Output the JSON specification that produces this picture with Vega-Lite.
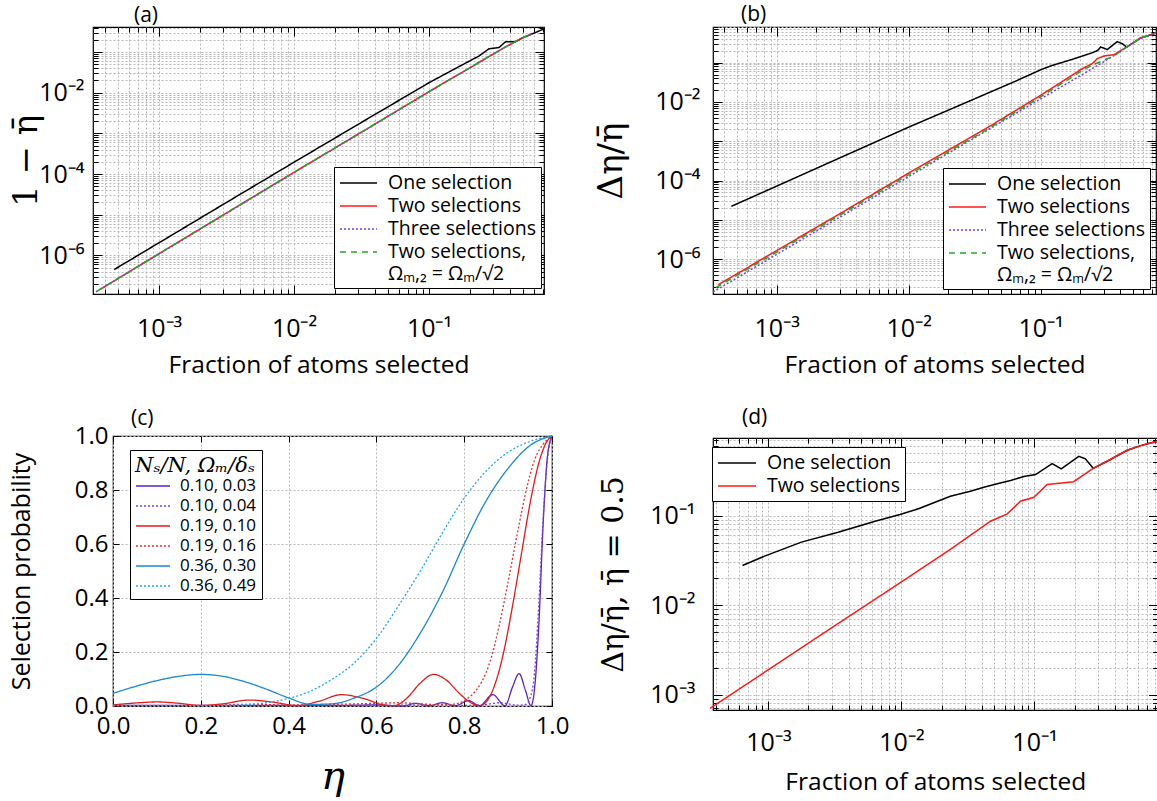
{
  "$schema": "https://vega.github.io/schema/vega-lite/v6.json",
  "background": "white",
  "padding": {"left": 8, "top": 3, "right": 0, "bottom": 0},
  "config": {
    "font": "Open Sans",
    "view": {"stroke": "black", "strokeWidth": 1.2},
    "axis": {"domain": false, "grid": true, "gridColor": "#b8b8b8", "gridDash": [2, 2], "gridWidth": 1, "tickColor": "black", "tickWidth": 1, "labelColor": "black", "labelFont": "Open Sans", "labelFlush": false, "labelOverlap": false, "titleColor": "black", "titleFontWeight": "normal", "titleFont": "Open Sans"},
    "legend": {"strokeColor": "black", "fillColor": "white", "cornerRadius": 0, "symbolStrokeWidth": 1.5, "labelFont": "Open Sans", "labelColor": "black", "labelLimit": 400, "orient": "none", "symbolSize": 400},
    "title": {"font": "Open Sans", "fontSize": 21, "fontWeight": "normal", "anchor": "start", "frame": "group", "color": "black"},
    "line": {"strokeWidth": 1.5, "clip": true}
  },
  "datasets": {
    "a": [
      {"s": "One selection", "x": 0.000465, "y": 4.47e-7},
      {"s": "One selection", "x": 0.001, "y": 2.04e-6},
      {"s": "One selection", "x": 0.00316, "y": 2.0e-5},
      {"s": "One selection", "x": 0.01, "y": 1.95e-4},
      {"s": "One selection", "x": 0.0316, "y": 1.86e-3},
      {"s": "One selection", "x": 0.1, "y": 0.0176},
      {"s": "One selection", "x": 0.158, "y": 0.0398},
      {"s": "One selection", "x": 0.234, "y": 0.0794},
      {"s": "One selection", "x": 0.278, "y": 0.120},
      {"s": "One selection", "x": 0.303, "y": 0.124},
      {"s": "One selection", "x": 0.330, "y": 0.129},
      {"s": "One selection", "x": 0.370, "y": 0.180},
      {"s": "One selection", "x": 0.439, "y": 0.180},
      {"s": "One selection", "x": 0.491, "y": 0.222},
      {"s": "One selection", "x": 0.600, "y": 0.292},
      {"s": "One selection", "x": 0.711, "y": 0.369},
      {"s": "Two selections", "x": 0.000371, "y": 1.5e-7},
      {"s": "Two selections", "x": 0.001, "y": 1.1e-6},
      {"s": "Two selections", "x": 0.00316, "y": 1.1e-5},
      {"s": "Two selections", "x": 0.01, "y": 1.1e-4},
      {"s": "Two selections", "x": 0.0316, "y": 1.07e-3},
      {"s": "Two selections", "x": 0.1, "y": 0.0106},
      {"s": "Two selections", "x": 0.234, "y": 0.0552},
      {"s": "Two selections", "x": 0.370, "y": 0.134},
      {"s": "Two selections", "x": 0.491, "y": 0.222},
      {"s": "Two selections", "x": 0.575, "y": 0.275},
      {"s": "Three selections", "x": 0.000341, "y": 1.26e-7},
      {"s": "Three selections", "x": 0.001, "y": 1.08e-6},
      {"s": "Three selections", "x": 0.00316, "y": 1.08e-5},
      {"s": "Three selections", "x": 0.01, "y": 1.08e-4},
      {"s": "Three selections", "x": 0.0316, "y": 1.06e-3},
      {"s": "Three selections", "x": 0.1, "y": 0.0105},
      {"s": "Three selections", "x": 0.234, "y": 0.0550},
      {"s": "Three selections", "x": 0.370, "y": 0.133},
      {"s": "Three selections", "x": 0.491, "y": 0.222},
      {"s": "Three selections", "x": 0.575, "y": 0.275},
      {"s": "Two selections, Ωm,2 = Ωm/√2", "x": 0.000345, "y": 1.3e-7},
      {"s": "Two selections, Ωm,2 = Ωm/√2", "x": 0.001, "y": 1.1e-6},
      {"s": "Two selections, Ωm,2 = Ωm/√2", "x": 0.00316, "y": 1.1e-5},
      {"s": "Two selections, Ωm,2 = Ωm/√2", "x": 0.01, "y": 1.1e-4},
      {"s": "Two selections, Ωm,2 = Ωm/√2", "x": 0.0316, "y": 1.07e-3},
      {"s": "Two selections, Ωm,2 = Ωm/√2", "x": 0.1, "y": 0.0106},
      {"s": "Two selections, Ωm,2 = Ωm/√2", "x": 0.234, "y": 0.0552},
      {"s": "Two selections, Ωm,2 = Ωm/√2", "x": 0.370, "y": 0.134},
      {"s": "Two selections, Ωm,2 = Ωm/√2", "x": 0.491, "y": 0.222},
      {"s": "Two selections, Ωm,2 = Ωm/√2", "x": 0.575, "y": 0.275}
    ],
    "b": [
      {"s": "One selection", "x": 0.000453, "y": 2.21e-5},
      {"s": "One selection", "x": 0.001, "y": 7.24e-5},
      {"s": "One selection", "x": 0.00316, "y": 4.07e-4},
      {"s": "One selection", "x": 0.01, "y": 2.29e-3},
      {"s": "One selection", "x": 0.0202, "y": 6.3e-3},
      {"s": "One selection", "x": 0.0361, "y": 0.0146},
      {"s": "One selection", "x": 0.0647, "y": 0.034},
      {"s": "One selection", "x": 0.1, "y": 0.066},
      {"s": "One selection", "x": 0.1225, "y": 0.0853},
      {"s": "One selection", "x": 0.173, "y": 0.121},
      {"s": "One selection", "x": 0.246, "y": 0.179},
      {"s": "One selection", "x": 0.27, "y": 0.205},
      {"s": "One selection", "x": 0.285, "y": 0.251},
      {"s": "One selection", "x": 0.320, "y": 0.216},
      {"s": "One selection", "x": 0.380, "y": 0.343},
      {"s": "One selection", "x": 0.415, "y": 0.304},
      {"s": "One selection", "x": 0.449, "y": 0.25},
      {"s": "One selection", "x": 0.573, "y": 0.426},
      {"s": "One selection", "x": 0.661, "y": 0.495},
      {"s": "One selection", "x": 0.748, "y": 0.57},
      {"s": "Two selections", "x": 0.000361, "y": 2.24e-7},
      {"s": "Two selections", "x": 0.001, "y": 1.66e-6},
      {"s": "Two selections", "x": 0.00316, "y": 1.58e-5},
      {"s": "Two selections", "x": 0.01, "y": 1.55e-4},
      {"s": "Two selections", "x": 0.0383, "y": 2.09e-3},
      {"s": "Two selections", "x": 0.1, "y": 0.0148},
      {"s": "Two selections", "x": 0.2065, "y": 0.0703},
      {"s": "Two selections", "x": 0.246, "y": 0.0944},
      {"s": "Two selections", "x": 0.2685, "y": 0.1265},
      {"s": "Two selections", "x": 0.302, "y": 0.148},
      {"s": "Two selections", "x": 0.359, "y": 0.160},
      {"s": "Two selections", "x": 0.449, "y": 0.25},
      {"s": "Two selections", "x": 0.573, "y": 0.426},
      {"s": "Two selections", "x": 0.661, "y": 0.495},
      {"s": "Two selections", "x": 0.748, "y": 0.57},
      {"s": "Three selections", "x": 0.000329, "y": 1.46e-7},
      {"s": "Three selections", "x": 0.001, "y": 1.32e-6},
      {"s": "Three selections", "x": 0.00316, "y": 1.29e-5},
      {"s": "Three selections", "x": 0.01, "y": 1.26e-4},
      {"s": "Three selections", "x": 0.0316, "y": 1.23e-3},
      {"s": "Three selections", "x": 0.1, "y": 0.0120},
      {"s": "Three selections", "x": 0.2, "y": 0.0468},
      {"s": "Three selections", "x": 0.370, "y": 0.160},
      {"s": "Three selections", "x": 0.449, "y": 0.25},
      {"s": "Three selections", "x": 0.573, "y": 0.426},
      {"s": "Three selections", "x": 0.661, "y": 0.495},
      {"s": "Three selections", "x": 0.748, "y": 0.57},
      {"s": "Two selections, Ωm,2 = Ωm/√2", "x": 0.000347, "y": 1.9e-7},
      {"s": "Two selections, Ωm,2 = Ωm/√2", "x": 0.001, "y": 1.51e-6},
      {"s": "Two selections, Ωm,2 = Ωm/√2", "x": 0.00316, "y": 1.45e-5},
      {"s": "Two selections, Ωm,2 = Ωm/√2", "x": 0.01, "y": 1.41e-4},
      {"s": "Two selections, Ωm,2 = Ωm/√2", "x": 0.0383, "y": 1.9e-3},
      {"s": "Two selections, Ωm,2 = Ωm/√2", "x": 0.1, "y": 0.0135},
      {"s": "Two selections, Ωm,2 = Ωm/√2", "x": 0.2065, "y": 0.063},
      {"s": "Two selections, Ωm,2 = Ωm/√2", "x": 0.246, "y": 0.087},
      {"s": "Two selections, Ωm,2 = Ωm/√2", "x": 0.302, "y": 0.115},
      {"s": "Two selections, Ωm,2 = Ωm/√2", "x": 0.33, "y": 0.132},
      {"s": "Two selections, Ωm,2 = Ωm/√2", "x": 0.37, "y": 0.16},
      {"s": "Two selections, Ωm,2 = Ωm/√2", "x": 0.449, "y": 0.25},
      {"s": "Two selections, Ωm,2 = Ωm/√2", "x": 0.573, "y": 0.426},
      {"s": "Two selections, Ωm,2 = Ωm/√2", "x": 0.661, "y": 0.495},
      {"s": "Two selections, Ωm,2 = Ωm/√2", "x": 0.748, "y": 0.57}
    ],
    "c": [
      {"s": "0.10, 0.03", "x": 0.0, "y": 0.002},
      {"s": "0.10, 0.03", "x": 0.3, "y": 0.002},
      {"s": "0.10, 0.03", "x": 0.5, "y": 0.002},
      {"s": "0.10, 0.03", "x": 0.6, "y": 0.004},
      {"s": "0.10, 0.03", "x": 0.66, "y": 0.0},
      {"s": "0.10, 0.03", "x": 0.69, "y": 0.01},
      {"s": "0.10, 0.03", "x": 0.72, "y": 0.001},
      {"s": "0.10, 0.03", "x": 0.75, "y": 0.012},
      {"s": "0.10, 0.03", "x": 0.78, "y": 0.001},
      {"s": "0.10, 0.03", "x": 0.81, "y": 0.02},
      {"s": "0.10, 0.03", "x": 0.835, "y": 0.001},
      {"s": "0.10, 0.03", "x": 0.865, "y": 0.042},
      {"s": "0.10, 0.03", "x": 0.893, "y": 0.001},
      {"s": "0.10, 0.03", "x": 0.91, "y": 0.07},
      {"s": "0.10, 0.03", "x": 0.925, "y": 0.12},
      {"s": "0.10, 0.03", "x": 0.94, "y": 0.055},
      {"s": "0.10, 0.03", "x": 0.952, "y": 0.001},
      {"s": "0.10, 0.03", "x": 0.96, "y": 0.06},
      {"s": "0.10, 0.03", "x": 0.97, "y": 0.3},
      {"s": "0.10, 0.03", "x": 0.98, "y": 0.68},
      {"s": "0.10, 0.03", "x": 0.99, "y": 0.93},
      {"s": "0.10, 0.03", "x": 1.0, "y": 1.0},
      {"s": "0.10, 0.04", "x": 0.0, "y": 0.001},
      {"s": "0.10, 0.04", "x": 0.6, "y": 0.002},
      {"s": "0.10, 0.04", "x": 0.75, "y": 0.004},
      {"s": "0.10, 0.04", "x": 0.8, "y": 0.002},
      {"s": "0.10, 0.04", "x": 0.85, "y": 0.006},
      {"s": "0.10, 0.04", "x": 0.88, "y": 0.012},
      {"s": "0.10, 0.04", "x": 0.9, "y": 0.008},
      {"s": "0.10, 0.04", "x": 0.92, "y": 0.003},
      {"s": "0.10, 0.04", "x": 0.94, "y": 0.006},
      {"s": "0.10, 0.04", "x": 0.95, "y": 0.03},
      {"s": "0.10, 0.04", "x": 0.96, "y": 0.12},
      {"s": "0.10, 0.04", "x": 0.97, "y": 0.38},
      {"s": "0.10, 0.04", "x": 0.98, "y": 0.7},
      {"s": "0.10, 0.04", "x": 0.99, "y": 0.92},
      {"s": "0.10, 0.04", "x": 1.0, "y": 1.0},
      {"s": "0.19, 0.10", "x": 0.0, "y": 0.004},
      {"s": "0.19, 0.10", "x": 0.05, "y": 0.011},
      {"s": "0.19, 0.10", "x": 0.1, "y": 0.015},
      {"s": "0.19, 0.10", "x": 0.15, "y": 0.010},
      {"s": "0.19, 0.10", "x": 0.2, "y": 0.002},
      {"s": "0.19, 0.10", "x": 0.25, "y": 0.008},
      {"s": "0.19, 0.10", "x": 0.31, "y": 0.022},
      {"s": "0.19, 0.10", "x": 0.37, "y": 0.013},
      {"s": "0.19, 0.10", "x": 0.42, "y": 0.001},
      {"s": "0.19, 0.10", "x": 0.47, "y": 0.018},
      {"s": "0.19, 0.10", "x": 0.52, "y": 0.042},
      {"s": "0.19, 0.10", "x": 0.57, "y": 0.028},
      {"s": "0.19, 0.10", "x": 0.62, "y": 0.003},
      {"s": "0.19, 0.10", "x": 0.64, "y": 0.001},
      {"s": "0.19, 0.10", "x": 0.67, "y": 0.03},
      {"s": "0.19, 0.10", "x": 0.70, "y": 0.085},
      {"s": "0.19, 0.10", "x": 0.73, "y": 0.117},
      {"s": "0.19, 0.10", "x": 0.76, "y": 0.095},
      {"s": "0.19, 0.10", "x": 0.79, "y": 0.045},
      {"s": "0.19, 0.10", "x": 0.82, "y": 0.008},
      {"s": "0.19, 0.10", "x": 0.835, "y": 0.001},
      {"s": "0.19, 0.10", "x": 0.85, "y": 0.015},
      {"s": "0.19, 0.10", "x": 0.87, "y": 0.08},
      {"s": "0.19, 0.10", "x": 0.89, "y": 0.2},
      {"s": "0.19, 0.10", "x": 0.91, "y": 0.37},
      {"s": "0.19, 0.10", "x": 0.93, "y": 0.56},
      {"s": "0.19, 0.10", "x": 0.95, "y": 0.75},
      {"s": "0.19, 0.10", "x": 0.97, "y": 0.90},
      {"s": "0.19, 0.10", "x": 0.985, "y": 0.97},
      {"s": "0.19, 0.10", "x": 1.0, "y": 1.0},
      {"s": "0.19, 0.16", "x": 0.0, "y": 0.001},
      {"s": "0.19, 0.16", "x": 0.2, "y": 0.002},
      {"s": "0.19, 0.16", "x": 0.3, "y": 0.006},
      {"s": "0.19, 0.16", "x": 0.4, "y": 0.004},
      {"s": "0.19, 0.16", "x": 0.5, "y": 0.006},
      {"s": "0.19, 0.16", "x": 0.6, "y": 0.01},
      {"s": "0.19, 0.16", "x": 0.65, "y": 0.012},
      {"s": "0.19, 0.16", "x": 0.7, "y": 0.008},
      {"s": "0.19, 0.16", "x": 0.75, "y": 0.004},
      {"s": "0.19, 0.16", "x": 0.78, "y": 0.008},
      {"s": "0.19, 0.16", "x": 0.8, "y": 0.02},
      {"s": "0.19, 0.16", "x": 0.82, "y": 0.045},
      {"s": "0.19, 0.16", "x": 0.84, "y": 0.09},
      {"s": "0.19, 0.16", "x": 0.86, "y": 0.17},
      {"s": "0.19, 0.16", "x": 0.88, "y": 0.3},
      {"s": "0.19, 0.16", "x": 0.9, "y": 0.46},
      {"s": "0.19, 0.16", "x": 0.92, "y": 0.63},
      {"s": "0.19, 0.16", "x": 0.94, "y": 0.79},
      {"s": "0.19, 0.16", "x": 0.96, "y": 0.91},
      {"s": "0.19, 0.16", "x": 0.98, "y": 0.97},
      {"s": "0.19, 0.16", "x": 1.0, "y": 1.0},
      {"s": "0.36, 0.30", "x": 0.0, "y": 0.047},
      {"s": "0.36, 0.30", "x": 0.05, "y": 0.072},
      {"s": "0.36, 0.30", "x": 0.1, "y": 0.094},
      {"s": "0.36, 0.30", "x": 0.15, "y": 0.110},
      {"s": "0.36, 0.30", "x": 0.2, "y": 0.117},
      {"s": "0.36, 0.30", "x": 0.25, "y": 0.110},
      {"s": "0.36, 0.30", "x": 0.3, "y": 0.090},
      {"s": "0.36, 0.30", "x": 0.35, "y": 0.062},
      {"s": "0.36, 0.30", "x": 0.4, "y": 0.030},
      {"s": "0.36, 0.30", "x": 0.45, "y": 0.006},
      {"s": "0.36, 0.30", "x": 0.5, "y": 0.008},
      {"s": "0.36, 0.30", "x": 0.55, "y": 0.030},
      {"s": "0.36, 0.30", "x": 0.6, "y": 0.07},
      {"s": "0.36, 0.30", "x": 0.65, "y": 0.15},
      {"s": "0.36, 0.30", "x": 0.7, "y": 0.27},
      {"s": "0.36, 0.30", "x": 0.75, "y": 0.42},
      {"s": "0.36, 0.30", "x": 0.8, "y": 0.6},
      {"s": "0.36, 0.30", "x": 0.85, "y": 0.76},
      {"s": "0.36, 0.30", "x": 0.9, "y": 0.88},
      {"s": "0.36, 0.30", "x": 0.95, "y": 0.965},
      {"s": "0.36, 0.30", "x": 1.0, "y": 1.0},
      {"s": "0.36, 0.49", "x": 0.0, "y": 0.002},
      {"s": "0.36, 0.49", "x": 0.1, "y": 0.002},
      {"s": "0.36, 0.49", "x": 0.2, "y": 0.001},
      {"s": "0.36, 0.49", "x": 0.25, "y": 0.002},
      {"s": "0.36, 0.49", "x": 0.3, "y": 0.005},
      {"s": "0.36, 0.49", "x": 0.35, "y": 0.012},
      {"s": "0.36, 0.49", "x": 0.4, "y": 0.028},
      {"s": "0.36, 0.49", "x": 0.45, "y": 0.055},
      {"s": "0.36, 0.49", "x": 0.5, "y": 0.1},
      {"s": "0.36, 0.49", "x": 0.55, "y": 0.16},
      {"s": "0.36, 0.49", "x": 0.6, "y": 0.25},
      {"s": "0.36, 0.49", "x": 0.65, "y": 0.37},
      {"s": "0.36, 0.49", "x": 0.7, "y": 0.5},
      {"s": "0.36, 0.49", "x": 0.75, "y": 0.64},
      {"s": "0.36, 0.49", "x": 0.8, "y": 0.77},
      {"s": "0.36, 0.49", "x": 0.85, "y": 0.87},
      {"s": "0.36, 0.49", "x": 0.9, "y": 0.94},
      {"s": "0.36, 0.49", "x": 0.95, "y": 0.98},
      {"s": "0.36, 0.49", "x": 1.0, "y": 1.0}
    ],
    "d": [
      {"s": "One selection", "x": 0.000638, "y": 0.0277},
      {"s": "One selection", "x": 0.000935, "y": 0.0352},
      {"s": "One selection", "x": 0.00177, "y": 0.0505},
      {"s": "One selection", "x": 0.00334, "y": 0.0652},
      {"s": "One selection", "x": 0.00634, "y": 0.0865},
      {"s": "One selection", "x": 0.00975, "y": 0.1026},
      {"s": "One selection", "x": 0.01358, "y": 0.1197},
      {"s": "One selection", "x": 0.0233, "y": 0.1644},
      {"s": "One selection", "x": 0.0330, "y": 0.187},
      {"s": "One selection", "x": 0.0416, "y": 0.2075},
      {"s": "One selection", "x": 0.0525, "y": 0.226},
      {"s": "One selection", "x": 0.0661, "y": 0.246},
      {"s": "One selection", "x": 0.0832, "y": 0.273},
      {"s": "One selection", "x": 0.1019, "y": 0.287},
      {"s": "One selection", "x": 0.1358, "y": 0.381},
      {"s": "One selection", "x": 0.1589, "y": 0.332},
      {"s": "One selection", "x": 0.2153, "y": 0.459},
      {"s": "One selection", "x": 0.2415, "y": 0.430},
      {"s": "One selection", "x": 0.276, "y": 0.337},
      {"s": "One selection", "x": 0.352, "y": 0.404},
      {"s": "One selection", "x": 0.498, "y": 0.536},
      {"s": "One selection", "x": 0.627, "y": 0.604},
      {"s": "One selection", "x": 0.745, "y": 0.647},
      {"s": "One selection", "x": 0.838, "y": 0.675},
      {"s": "Two selections", "x": 0.000364, "y": 0.00070},
      {"s": "Two selections", "x": 0.001, "y": 0.0019},
      {"s": "Two selections", "x": 0.00316, "y": 0.0059},
      {"s": "Two selections", "x": 0.01, "y": 0.0182},
      {"s": "Two selections", "x": 0.0233, "y": 0.0418},
      {"s": "Two selections", "x": 0.0467, "y": 0.0865},
      {"s": "Two selections", "x": 0.0624, "y": 0.1045},
      {"s": "Two selections", "x": 0.0785, "y": 0.1445},
      {"s": "Two selections", "x": 0.0989, "y": 0.160},
      {"s": "Two selections", "x": 0.1245, "y": 0.222},
      {"s": "Two selections", "x": 0.197, "y": 0.239},
      {"s": "Two selections", "x": 0.276, "y": 0.337},
      {"s": "Two selections", "x": 0.352, "y": 0.404},
      {"s": "Two selections", "x": 0.498, "y": 0.536},
      {"s": "Two selections", "x": 0.627, "y": 0.604},
      {"s": "Two selections", "x": 0.745, "y": 0.647},
      {"s": "Two selections", "x": 0.838, "y": 0.675}
    ]
  },
  "spacing": 24,
  "resolve": {"scale": {"color": "independent", "strokeDash": "independent"}, "legend": {"color": "independent", "strokeDash": "independent"}},
  "hconcat": [
    {
      "columns": 1,
      "spacing": 29,
      "resolve": {"scale": {"color": "independent", "strokeDash": "independent"}, "legend": {"color": "independent", "strokeDash": "independent"}},
      "concat": [
        {
          "width": 451, "height": 267,
          "title": {"text": "(a)", "dx": 41, "offset": -10},
          "data": {"name": "a"},
          "layer": [
            {
              "mark": {"type": "line"},
              "encoding": {
                "x": {"field": "x", "type": "quantitative", "scale": {"type": "log", "domain": [0.000324, 0.711], "nice": false},
                  "axis": {"title": "Fraction of atoms selected", "titleFontSize": 24.5, "titlePadding": 8,
                    "values": [0.0004,0.0005,0.0006,0.0007,0.0008,0.0009,0.001,0.002,0.003,0.004,0.005,0.006,0.007,0.008,0.009,0.01,0.02,0.03,0.04,0.05,0.06,0.07,0.08,0.09,0.1,0.2,0.3,0.4,0.5,0.6,0.7],
                    "labelExpr": "datum.value == 0.001 ? '10⁻³' : datum.value == 0.01 ? '10⁻²' : datum.value == 0.1 ? '10⁻¹' : ''",
                    "labelFontSize": 25, "labelPadding": 31,
                    "tickSize": {"condition": {"test": "abs(log(datum.value)/LN10 - round(log(datum.value)/LN10)) < 0.001", "value": -9}, "value": -5}}},
                "y": {"field": "y", "type": "quantitative", "scale": {"type": "log", "domain": [1.12e-7, 0.412], "nice": false},
                  "axis": {"title": "1 − η̄", "titleFont": "DejaVu Serif", "titleFontSize": 34, "titlePadding": -5,
                    "values": [2e-7,3e-7,4e-7,5e-7,6e-7,7e-7,8e-7,9e-7,1e-6,2e-6,3e-6,4e-6,5e-6,6e-6,7e-6,8e-6,9e-6,1e-5,2e-5,3e-5,4e-5,5e-5,6e-5,7e-5,8e-5,9e-5,1e-4,2e-4,3e-4,4e-4,5e-4,6e-4,7e-4,8e-4,9e-4,0.001,0.002,0.003,0.004,0.005,0.006,0.007,0.008,0.009,0.01,0.02,0.03,0.04,0.05,0.06,0.07,0.08,0.09,0.1,0.2,0.3,0.4],
                    "labelExpr": "datum.value == 0.01 ? '10⁻²' : datum.value == 0.0001 ? '10⁻⁴' : datum.value == 0.000001 ? '10⁻⁶' : ''",
                    "labelFontSize": 25, "labelPadding": 18,
                    "tickSize": {"condition": {"test": "abs(log(datum.value)/LN10 - round(log(datum.value)/LN10)) < 0.001", "value": -9}, "value": -5}}},
                "color": {"field": "s", "type": "nominal",
                  "scale": {"domain": ["One selection", "Two selections", "Three selections", "Two selections, Ωm,2 = Ωm/√2"], "range": ["#000000", "#ff1a1a", "#7b3fe0", "#22a822"]},
                  "legend": {"legendX": 241, "legendY": 140, "title": null, "symbolType": "M-1,0H2.7", "labelFontSize": 19.5, "padding": 5, "rowPadding": 2, "labelOffset": 27,
                    "labelExpr": "indexof(datum.label, 'Ω') > 0 ? ['Two selections,', 'Ωₘ,₂ = Ωₘ/√2'] : datum.label"}},
                "strokeDash": {"field": "s", "type": "nominal",
                  "scale": {"domain": ["One selection", "Two selections", "Three selections", "Two selections, Ωm,2 = Ωm/√2"], "range": [[1, 0], [1, 0], [2, 2], [6, 5]]},
                  "legend": {"legendX": 241, "legendY": 140, "title": null, "symbolType": "M-1,0H2.7", "labelFontSize": 19.5, "padding": 5, "rowPadding": 2, "labelOffset": 27,
                    "labelExpr": "indexof(datum.label, 'Ω') > 0 ? ['Two selections,', 'Ωₘ,₂ = Ωₘ/√2'] : datum.label"}}
              }
            },
            {
              "mark": {"type": "line", "strokeOpacity": 0},
              "encoding": {
                "x": {"field": "x", "type": "quantitative", "scale": {"type": "log", "domain": [0.000324, 0.711], "nice": false},
                  "axis": {"orient": "top", "labels": false, "grid": false, "title": null,
                    "values": [0.0004,0.0005,0.0006,0.0007,0.0008,0.0009,0.001,0.002,0.003,0.004,0.005,0.006,0.007,0.008,0.009,0.01,0.02,0.03,0.04,0.05,0.06,0.07,0.08,0.09,0.1,0.2,0.3,0.4,0.5,0.6,0.7],
                    "tickSize": {"condition": {"test": "abs(log(datum.value)/LN10 - round(log(datum.value)/LN10)) < 0.001", "value": -9}, "value": -5}}},
                "y": {"field": "y", "type": "quantitative", "scale": {"type": "log", "domain": [1.12e-7, 0.412], "nice": false},
                  "axis": {"orient": "right", "labels": false, "grid": false, "title": null,
                    "values": [2e-7,3e-7,4e-7,5e-7,6e-7,7e-7,8e-7,9e-7,1e-6,2e-6,3e-6,4e-6,5e-6,6e-6,7e-6,8e-6,9e-6,1e-5,2e-5,3e-5,4e-5,5e-5,6e-5,7e-5,8e-5,9e-5,1e-4,2e-4,3e-4,4e-4,5e-4,6e-4,7e-4,8e-4,9e-4,0.001,0.002,0.003,0.004,0.005,0.006,0.007,0.008,0.009,0.01,0.02,0.03,0.04,0.05,0.06,0.07,0.08,0.09,0.1,0.2,0.3,0.4],
                    "tickSize": {"condition": {"test": "abs(log(datum.value)/LN10 - round(log(datum.value)/LN10)) < 0.001", "value": -9}, "value": -5}}},
                "detail": {"field": "s"}
              }
            }
          ],
          "resolve": {"axis": {"x": "independent", "y": "independent"}}
        },
        {
          "bounds": "flush",
          "spacing": 0,
          "resolve": {"scale": {"color": "independent", "strokeDash": "independent"}, "legend": {"color": "independent", "strokeDash": "independent"}},
          "hconcat": [
            {"width": 20, "height": 270, "view": {"stroke": null}, "data": {"values": []}, "mark": "point", "encoding": {}},
            {
              "width": 439, "height": 270,
              "title": {"text": "(c)", "dx": 18, "offset": -5},
              "data": {"name": "c"},
              "layer": [
                {
                  "mark": {"type": "line", "interpolate": "monotone", "strokeWidth": 1.3},
                  "encoding": {
                    "x": {"field": "x", "type": "quantitative", "scale": {"domain": [0, 1], "nice": false},
                      "axis": {"title": "η", "titleFont": "DejaVu Serif", "titleFontStyle": "italic", "titleFontSize": 40, "titlePadding": 18,
                        "values": [0, 0.2, 0.4, 0.6, 0.8, 1.0], "format": ".1f", "labelFontSize": 24, "labelPadding": 14, "tickSize": -6}},
                    "y": {"field": "y", "type": "quantitative", "scale": {"domain": [0, 1], "nice": false},
                      "axis": {"title": "Selection probability", "titleFontSize": 25, "titlePadding": 40,
                        "values": [0, 0.2, 0.4, 0.6, 0.8, 1.0], "format": ".1f", "labelFontSize": 24, "labelPadding": 11, "tickSize": -6}},
                    "color": {"field": "s", "type": "nominal",
                      "scale": {"domain": ["0.10, 0.03", "0.10, 0.04", "0.19, 0.10", "0.19, 0.16", "0.36, 0.30", "0.36, 0.49"], "range": ["#5a22c0", "#7a3fd8", "#e01b1b", "#e83030", "#1b88d0", "#27a4e6"]},
                      "legend": {"legendX": 17, "legendY": 14, "title": "Nₛ/N, Ωₘ/δₛ", "titleFont": "DejaVu Serif", "titleFontStyle": "italic", "titleFontSize": 21, "titleFontWeight": "normal", "titleColor": "black", "titlePadding": -1,
                        "symbolType": "M-1,0H2.4", "labelFontSize": 17, "padding": 5, "rowPadding": 1, "labelOffset": 23}},
                    "strokeDash": {"field": "s", "type": "nominal",
                      "scale": {"domain": ["0.10, 0.03", "0.10, 0.04", "0.19, 0.10", "0.19, 0.16", "0.36, 0.30", "0.36, 0.49"], "range": [[1, 0], [2, 2], [1, 0], [2, 2], [1, 0], [2, 2]]},
                      "legend": {"legendX": 17, "legendY": 14, "title": "Nₛ/N, Ωₘ/δₛ", "titleFont": "DejaVu Serif", "titleFontStyle": "italic", "titleFontSize": 21, "titleFontWeight": "normal", "titleColor": "black", "titlePadding": -1,
                        "symbolType": "M-1,0H2.4", "labelFontSize": 17, "padding": 5, "rowPadding": 1, "labelOffset": 23}}
                  }
                },
                {
                  "mark": {"type": "line", "strokeOpacity": 0},
                  "encoding": {
                    "x": {"field": "x", "type": "quantitative", "scale": {"domain": [0, 1], "nice": false},
                      "axis": {"orient": "top", "labels": false, "grid": false, "title": null, "values": [0, 0.2, 0.4, 0.6, 0.8, 1.0], "tickSize": -6}},
                    "y": {"field": "y", "type": "quantitative", "scale": {"domain": [0, 1], "nice": false},
                      "axis": {"orient": "right", "labels": false, "grid": false, "title": null, "values": [0, 0.2, 0.4, 0.6, 0.8, 1.0], "tickSize": -6}},
                    "detail": {"field": "s"}
                  }
                }
              ],
              "resolve": {"axis": {"x": "independent", "y": "independent"}}
            }
          ]
        }
      ]
    },
    {
      "columns": 1,
      "spacing": 28,
      "resolve": {"scale": {"color": "independent", "strokeDash": "independent"}, "legend": {"color": "independent", "strokeDash": "independent"}},
      "concat": [
        {
          "width": 443, "height": 267,
          "title": {"text": "(b)", "dx": 28, "offset": -10},
          "data": {"name": "b"},
          "layer": [
            {
              "mark": {"type": "line"},
              "encoding": {
                "x": {"field": "x", "type": "quantitative", "scale": {"type": "log", "domain": [0.000329, 0.748], "nice": false},
                  "axis": {"title": "Fraction of atoms selected", "titleFontSize": 24.5, "titlePadding": 8,
                    "values": [0.0004,0.0005,0.0006,0.0007,0.0008,0.0009,0.001,0.002,0.003,0.004,0.005,0.006,0.007,0.008,0.009,0.01,0.02,0.03,0.04,0.05,0.06,0.07,0.08,0.09,0.1,0.2,0.3,0.4,0.5,0.6,0.7],
                    "labelExpr": "datum.value == 0.001 ? '10⁻³' : datum.value == 0.01 ? '10⁻²' : datum.value == 0.1 ? '10⁻¹' : ''",
                    "labelFontSize": 25, "labelPadding": 31,
                    "tickSize": {"condition": {"test": "abs(log(datum.value)/LN10 - round(log(datum.value)/LN10)) < 0.001", "value": -9}, "value": -5}}},
                "y": {"field": "y", "type": "quantitative", "scale": {"type": "log", "domain": [1.3e-7, 0.809], "nice": false},
                  "axis": {"title": "Δη/η̄", "titleFont": "DejaVu Serif", "titleFontSize": 34, "titlePadding": 26,
                    "values": [2e-7,3e-7,4e-7,5e-7,6e-7,7e-7,8e-7,9e-7,1e-6,2e-6,3e-6,4e-6,5e-6,6e-6,7e-6,8e-6,9e-6,1e-5,2e-5,3e-5,4e-5,5e-5,6e-5,7e-5,8e-5,9e-5,1e-4,2e-4,3e-4,4e-4,5e-4,6e-4,7e-4,8e-4,9e-4,0.001,0.002,0.003,0.004,0.005,0.006,0.007,0.008,0.009,0.01,0.02,0.03,0.04,0.05,0.06,0.07,0.08,0.09,0.1,0.2,0.3,0.4,0.5,0.6,0.7,0.8],
                    "labelExpr": "datum.value == 0.01 ? '10⁻²' : datum.value == 0.0001 ? '10⁻⁴' : datum.value == 0.000001 ? '10⁻⁶' : ''",
                    "labelFontSize": 25, "labelPadding": 22,
                    "tickSize": {"condition": {"test": "abs(log(datum.value)/LN10 - round(log(datum.value)/LN10)) < 0.001", "value": -9}, "value": -5}}},
                "color": {"field": "s", "type": "nominal",
                  "scale": {"domain": ["One selection", "Two selections", "Three selections", "Two selections, Ωm,2 = Ωm/√2"], "range": ["#000000", "#ff1a1a", "#7b3fe0", "#22a822"]},
                  "legend": {"legendX": 230, "legendY": 141, "title": null, "symbolType": "M-1,0H2.7", "labelFontSize": 19.5, "padding": 5, "rowPadding": 2, "labelOffset": 27,
                    "labelExpr": "indexof(datum.label, 'Ω') > 0 ? ['Two selections,', 'Ωₘ,₂ = Ωₘ/√2'] : datum.label"}},
                "strokeDash": {"field": "s", "type": "nominal",
                  "scale": {"domain": ["One selection", "Two selections", "Three selections", "Two selections, Ωm,2 = Ωm/√2"], "range": [[1, 0], [1, 0], [2, 2], [6, 5]]},
                  "legend": {"legendX": 230, "legendY": 141, "title": null, "symbolType": "M-1,0H2.7", "labelFontSize": 19.5, "padding": 5, "rowPadding": 2, "labelOffset": 27,
                    "labelExpr": "indexof(datum.label, 'Ω') > 0 ? ['Two selections,', 'Ωₘ,₂ = Ωₘ/√2'] : datum.label"}}
              }
            },
            {
              "mark": {"type": "line", "strokeOpacity": 0},
              "encoding": {
                "x": {"field": "x", "type": "quantitative", "scale": {"type": "log", "domain": [0.000329, 0.748], "nice": false},
                  "axis": {"orient": "top", "labels": false, "grid": false, "title": null,
                    "values": [0.0004,0.0005,0.0006,0.0007,0.0008,0.0009,0.001,0.002,0.003,0.004,0.005,0.006,0.007,0.008,0.009,0.01,0.02,0.03,0.04,0.05,0.06,0.07,0.08,0.09,0.1,0.2,0.3,0.4,0.5,0.6,0.7],
                    "tickSize": {"condition": {"test": "abs(log(datum.value)/LN10 - round(log(datum.value)/LN10)) < 0.001", "value": -9}, "value": -5}}},
                "y": {"field": "y", "type": "quantitative", "scale": {"type": "log", "domain": [1.3e-7, 0.809], "nice": false},
                  "axis": {"orient": "right", "labels": false, "grid": false, "title": null,
                    "values": [2e-7,3e-7,4e-7,5e-7,6e-7,7e-7,8e-7,9e-7,1e-6,2e-6,3e-6,4e-6,5e-6,6e-6,7e-6,8e-6,9e-6,1e-5,2e-5,3e-5,4e-5,5e-5,6e-5,7e-5,8e-5,9e-5,1e-4,2e-4,3e-4,4e-4,5e-4,6e-4,7e-4,8e-4,9e-4,0.001,0.002,0.003,0.004,0.005,0.006,0.007,0.008,0.009,0.01,0.02,0.03,0.04,0.05,0.06,0.07,0.08,0.09,0.1,0.2,0.3,0.4,0.5,0.6,0.7,0.8],
                    "tickSize": {"condition": {"test": "abs(log(datum.value)/LN10 - round(log(datum.value)/LN10)) < 0.001", "value": -9}, "value": -5}}},
                "detail": {"field": "s"}
              }
            }
          ],
          "resolve": {"axis": {"x": "independent", "y": "independent"}}
        },
        {
          "width": 444.5, "height": 272,
          "title": {"text": "(d)", "dx": 29, "offset": -0.5},
          "data": {"name": "d"},
          "layer": [
            {
              "mark": {"type": "line"},
              "encoding": {
                "x": {"field": "x", "type": "quantitative", "scale": {"type": "log", "domain": [0.000383, 0.841], "nice": false},
                  "axis": {"title": "Fraction of atoms selected", "titleFontSize": 24.5, "titlePadding": 11,
                    "values": [0.0004,0.0005,0.0006,0.0007,0.0008,0.0009,0.001,0.002,0.003,0.004,0.005,0.006,0.007,0.008,0.009,0.01,0.02,0.03,0.04,0.05,0.06,0.07,0.08,0.09,0.1,0.2,0.3,0.4,0.5,0.6,0.7,0.8],
                    "labelExpr": "datum.value == 0.001 ? '10⁻³' : datum.value == 0.01 ? '10⁻²' : datum.value == 0.1 ? '10⁻¹' : ''",
                    "labelFontSize": 25, "labelPadding": 29,
                    "tickSize": {"condition": {"test": "abs(log(datum.value)/LN10 - round(log(datum.value)/LN10)) < 0.001", "value": -9}, "value": -5}}},
                "y": {"field": "y", "type": "quantitative", "scale": {"type": "log", "domain": [0.000673, 0.735], "nice": false},
                  "axis": {"title": "Δη/η̄, η̄ = 0.5", "titleFont": "DejaVu Serif", "titleFontSize": 30, "titlePadding": 21,
                    "values": [0.0007,0.0008,0.0009,0.001,0.002,0.003,0.004,0.005,0.006,0.007,0.008,0.009,0.01,0.02,0.03,0.04,0.05,0.06,0.07,0.08,0.09,0.1,0.2,0.3,0.4,0.5,0.6,0.7],
                    "labelExpr": "datum.value == 0.001 ? '10⁻³' : datum.value == 0.01 ? '10⁻²' : datum.value == 0.1 ? '10⁻¹' : ''",
                    "labelFontSize": 25, "labelPadding": 27,
                    "tickSize": {"condition": {"test": "abs(log(datum.value)/LN10 - round(log(datum.value)/LN10)) < 0.001", "value": -9}, "value": -5}}},
                "color": {"field": "s", "type": "nominal",
                  "scale": {"domain": ["One selection", "Two selections"], "range": ["#000000", "#ff1a1a"]},
                  "legend": {"legendX": -1, "legendY": 9, "title": null, "symbolType": "M-1,0H2.8", "labelFontSize": 19.5, "padding": 5, "rowPadding": 2, "labelOffset": 28}}
              }
            },
            {
              "mark": {"type": "line", "strokeOpacity": 0},
              "encoding": {
                "x": {"field": "x", "type": "quantitative", "scale": {"type": "log", "domain": [0.000383, 0.841], "nice": false},
                  "axis": {"orient": "top", "labels": false, "grid": false, "title": null,
                    "values": [0.0004,0.0005,0.0006,0.0007,0.0008,0.0009,0.001,0.002,0.003,0.004,0.005,0.006,0.007,0.008,0.009,0.01,0.02,0.03,0.04,0.05,0.06,0.07,0.08,0.09,0.1,0.2,0.3,0.4,0.5,0.6,0.7,0.8],
                    "tickSize": {"condition": {"test": "abs(log(datum.value)/LN10 - round(log(datum.value)/LN10)) < 0.001", "value": -9}, "value": -5}}},
                "y": {"field": "y", "type": "quantitative", "scale": {"type": "log", "domain": [0.000673, 0.735], "nice": false},
                  "axis": {"orient": "right", "labels": false, "grid": false, "title": null,
                    "values": [0.0007,0.0008,0.0009,0.001,0.002,0.003,0.004,0.005,0.006,0.007,0.008,0.009,0.01,0.02,0.03,0.04,0.05,0.06,0.07,0.08,0.09,0.1,0.2,0.3,0.4,0.5,0.6,0.7],
                    "tickSize": {"condition": {"test": "abs(log(datum.value)/LN10 - round(log(datum.value)/LN10)) < 0.001", "value": -9}, "value": -5}}},
                "detail": {"field": "s"}
              }
            }
          ],
          "resolve": {"axis": {"x": "independent", "y": "independent"}}
        }
      ]
    }
  ]
}
